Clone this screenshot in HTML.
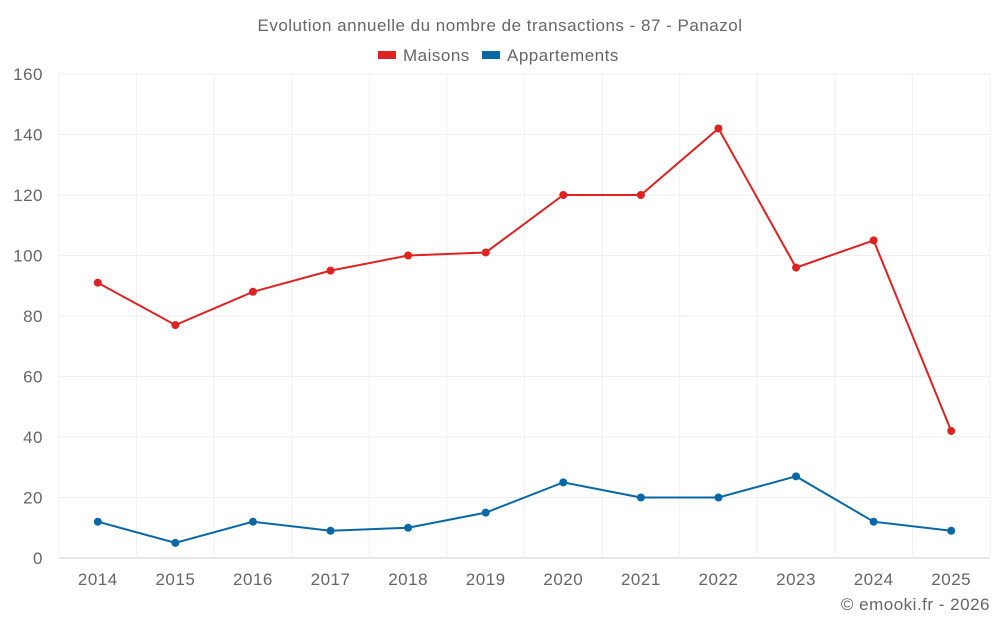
<!DOCTYPE html>
<html><head><meta charset="utf-8">
<style>
body{margin:0;background:#fff;font-family:"Liberation Sans",sans-serif;}
svg text{font-family:"Liberation Sans",sans-serif;fill:#666;letter-spacing:0.5px;}
</style></head>
<body>
<svg id="c" width="1000" height="625" xmlns="http://www.w3.org/2000/svg">
<text x="500" y="31" text-anchor="middle" font-size="17">Evolution annuelle du nombre de transactions - 87 - Panazol</text>
<g>
<g><rect x="378" y="51" width="18" height="8" fill="#dd2222"/><text x="403" y="61" font-size="17">Maisons</text></g>
<g><rect x="482" y="51" width="18" height="8" fill="#0868a6"/><text x="507" y="61" font-size="17">Appartements</text></g>
</g>
<g id="grid"></g><g id="axes"></g><g id="series"></g>
<text x="990" y="610" text-anchor="end" font-size="17">© emooki.fr - 2026</text>
</svg>
<script>
const categories=["2014","2015","2016","2017","2018","2019","2020","2021","2022","2023","2024","2025"];
const maisons=[91,77,88,95,100,101,120,120,142,96,105,42];
const appartements=[12,5,12,9,10,15,25,20,20,27,12,9];
const yTicks=[0,20,40,60,80,100,120,140,160];
const NS="http://www.w3.org/2000/svg";
const L=59,R=990,T=74,B=558,yMax=160;
const bw=(R-L)/categories.length;
const x=i=>L+bw*(i+0.5);
const y=v=>B-(v/yMax)*(B-T);
function mk(tag,attrs,parent){const e=document.createElementNS(NS,tag);for(const k in attrs)e.setAttribute(k,attrs[k]);parent.appendChild(e);return e;}
const grid=document.getElementById('grid'),axes=document.getElementById('axes'),series=document.getElementById('series');
yTicks.forEach(t=>{
  const ln=mk('line',{x1:L,x2:R,y1:y(t),y2:y(t),stroke:t===0?'#ccc':'#eeeeee','stroke-width':1},grid);
  
  
  const tx=mk('text',{x:L-16,y:y(t)+6,'text-anchor':'end','font-size':17},axes);
  tx.textContent=t;
  
  
});
for(let i=0;i<=categories.length;i++){
  const ln=mk('line',{x1:L+bw*i,x2:L+bw*i,y1:T,y2:B,stroke:'#f0f0f0','stroke-width':1},grid);
  
  
}
categories.forEach((c,i)=>{
  const tx=mk('text',{x:x(i),y:585,'text-anchor':'middle','font-size':17},axes);
  tx.textContent=c;
  
  
});
function draw(data,color,name){
  const p=mk('polyline',{points:data.map((v,i)=>x(i)+','+y(v)).join(' '),fill:'none',stroke:color,'stroke-width':2},series);
  
  
  data.forEach((v,i)=>{
    const c=mk('circle',{cx:x(i),cy:y(v),r:4,fill:color},series);
    
    
  });
}
draw(maisons,'#dd2222','maisons');
draw(appartements,'#0868a6','appartements');
</script>
</body></html>
